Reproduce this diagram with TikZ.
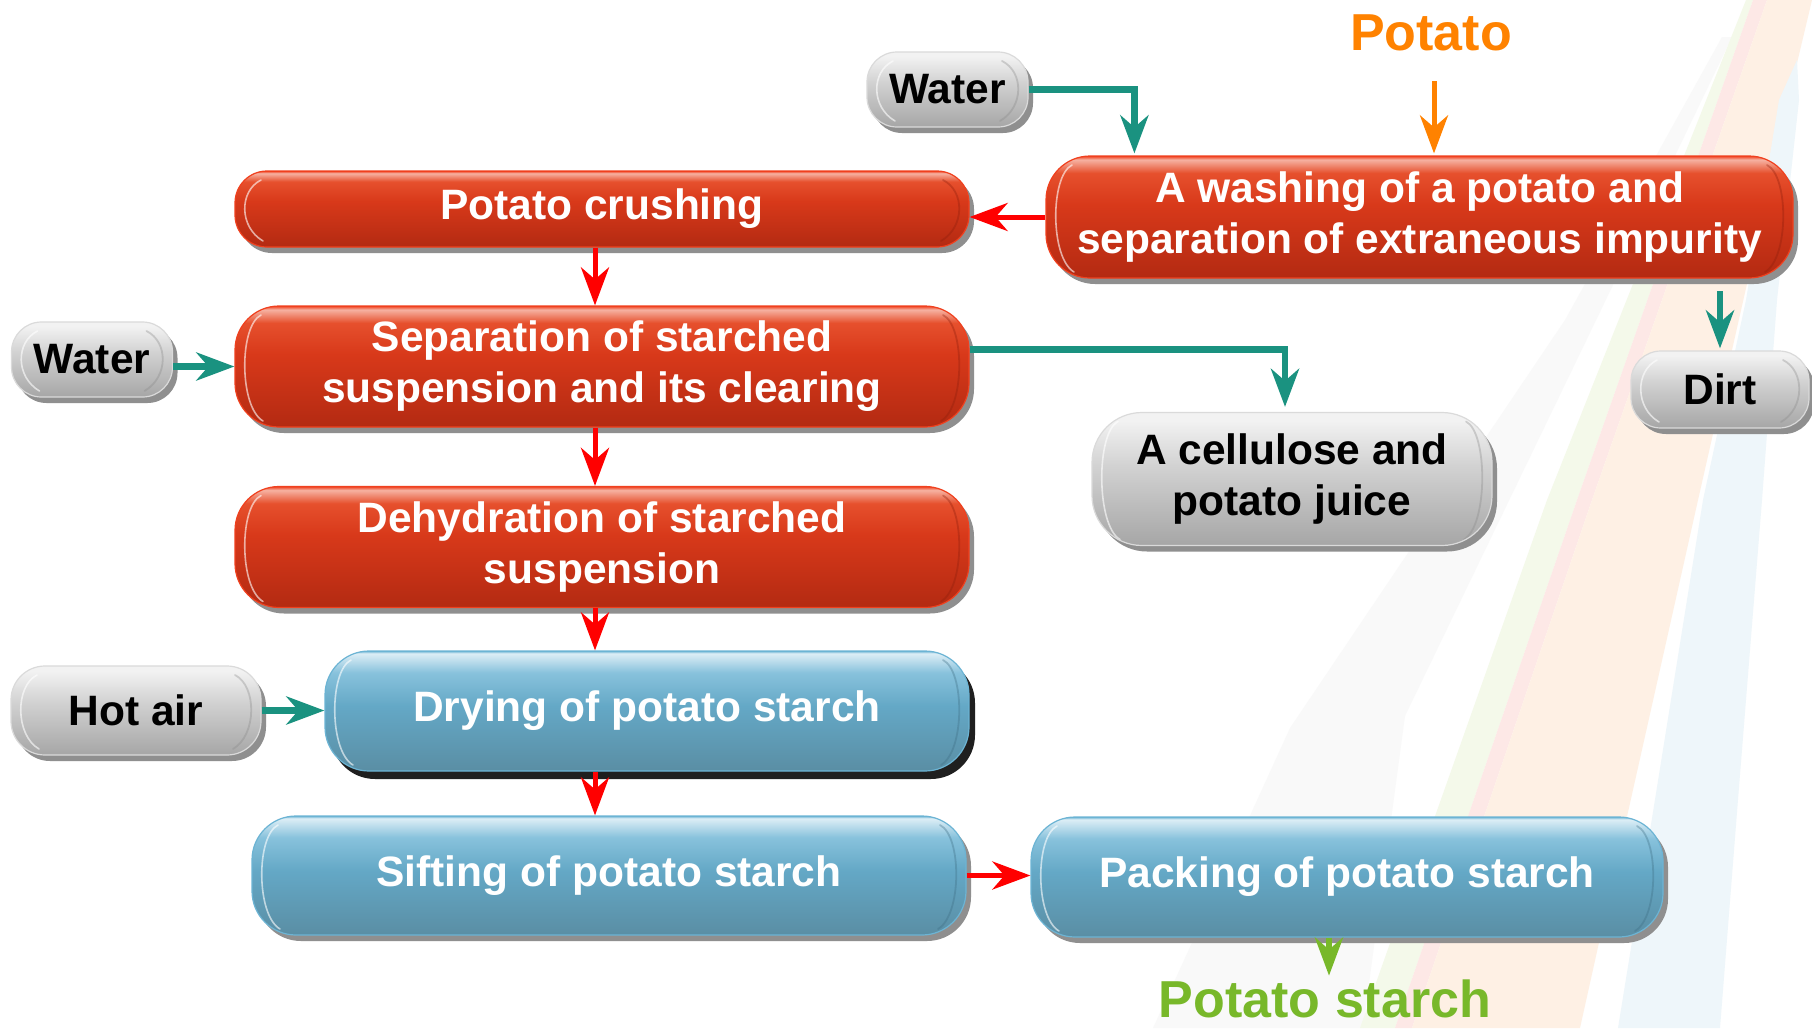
\documentclass[tikz,border=0pt]{standalone}
\usepackage{fontspec}
\setmainfont{Liberation Sans}
\usetikzlibrary{arrows.meta,shadows,calc}

\definecolor{tealc}{HTML}{1A9280}
\definecolor{orangec}{HTML}{FF8200}
\definecolor{greenc}{HTML}{78B82A}
\definecolor{redl}{HTML}{FF0000}
% red glass
\definecolor{redB}{HTML}{B32A12}
\definecolor{redM}{HTML}{D8391A}
\definecolor{redT}{HTML}{E6502D}
\definecolor{redH}{HTML}{F6B2A2}
\definecolor{redE}{HTML}{F0401E}
\definecolor{redDark}{HTML}{8E1E0C}
% blue glass
\definecolor{bluB}{HTML}{5A8EA4}
\definecolor{bluM}{HTML}{64A8C6}
\definecolor{bluT}{HTML}{88C2DC}
\definecolor{bluH}{HTML}{DDEEF6}
\definecolor{bluE}{HTML}{6CB4D4}
\definecolor{bluDark}{HTML}{3E6E84}
% gray glass
\definecolor{gryB}{HTML}{A6A6A6}
\definecolor{gryM}{HTML}{D2D2D2}
\definecolor{gryT}{HTML}{F2F2F2}
\definecolor{gryE}{HTML}{DADADA}
\definecolor{gryDark}{HTML}{8A8A8A}
% stripes
\definecolor{stGray}{HTML}{F9F9F9}
\definecolor{stGreen}{HTML}{F4F9EA}
\definecolor{stPink}{HTML}{FDE8E6}
\definecolor{stPeach}{HTML}{FEF0E4}
\definecolor{stBlue}{HTML}{EEF6FA}

\pgfdeclareverticalshading{redglass}{100bp}{color(0bp)=(redB); color(25bp)=(redB); color(55bp)=(redM); color(68bp)=(redT); color(73.5bp)=(redH); color(75bp)=(redE); color(100bp)=(redE)}
\pgfdeclareverticalshading{blueglass}{100bp}{color(0bp)=(bluB); color(25bp)=(bluB); color(52bp)=(bluM); color(66bp)=(bluT); color(74bp)=(bluH); color(75bp)=(bluE); color(100bp)=(bluE)}
\pgfdeclareverticalshading{grayglass}{100bp}{color(0bp)=(gryB); color(25bp)=(gryB); color(55bp)=(gryM); color(72bp)=(gryT); color(75bp)=(gryT); color(100bp)=(gryT)}

\tikzset{
  glassarcs/.style={path picture={
    \coordinate (ppnw) at (path picture bounding box.north west);
    \coordinate (ppsw) at (path picture bounding box.south west);
    \coordinate (ppne) at (path picture bounding box.north east);
    \coordinate (ppse) at (path picture bounding box.south east);
    \draw[line width=1.6pt, white, opacity=.6, line cap=round]
      ($(ppnw)+(26,9)$) .. controls ($(ppnw)+(4,20)$) and ($(ppsw)+(4,-20)$) .. ($(ppsw)+(28,-6)$);
    \draw[line width=1.8pt, #1, opacity=.35, line cap=round]
      ($(ppne)+(-26,9)$) .. controls ($(ppne)+(-4,20)$) and ($(ppse)+(-4,-20)$) .. ($(ppse)+(-28,-6)$);
  }},
  boxbase/.style={line width=1.2pt, inner sep=0pt, align=center,
    font=\bfseries\fontsize{42.5}{51}\selectfont},
  grayshadow/.style={drop shadow={shadow xshift=5pt, shadow yshift=-6pt, fill=black!44, opacity=1}},
  blackshadow/.style={drop shadow={shadow xshift=6pt, shadow yshift=-8pt, fill=black!88, opacity=1}},
  redbox/.style={boxbase, draw=redE, shade, shading=redglass, text=white, grayshadow, glassarcs=redDark},
  bluebox/.style={boxbase, draw=bluE, shade, shading=blueglass, text=white, glassarcs=bluDark},
  graybox/.style={boxbase, draw=gryE, shade, shading=grayglass, text=black, grayshadow, glassarcs=gryDark},
  tip/.style={-{Stealth[length=38pt, width=28pt, inset=12pt]}},
  redarrow/.style={tip, draw=redl, line width=5pt},
  tealarrow/.style={tip, draw=tealc, line width=6.5pt},
  orangearrow/.style={tip, draw=orangec, line width=5pt},
  greenarrow/.style={tip, draw=greenc, line width=6pt},
  bigtext/.style={font=\bfseries\fontsize{52}{60}\selectfont, inner sep=0pt, anchor=base}
}

\begin{document}
\begin{tikzpicture}[x=1pt, y=-1pt]
\useasboundingbox (0,0) rectangle (1812,1028);
\fill[white] (0,0) rectangle (1812,1028);

% background stripes
\fill[stGray] (1722,37) -- (1732,37) -- (1600,312) -- (1405,716) -- (1363,1028) -- (1153,1028) -- (1290,728) -- (1565,320) -- cycle;
\fill[stGreen] (1746,0) -- (1753,0) -- (1577,500) -- (1395,1028) -- (1360,1028) -- (1547,500) -- cycle;
\fill[stPink] (1753,0) -- (1767,0) -- (1592,500) -- (1412,1028) -- (1395,1028) -- (1577,500) -- cycle;
\fill[stPeach] (1767,0) -- (1812,0) -- (1797,63) -- (1698,500) -- (1628,812) -- (1580,1028) -- (1412,1028) -- (1592,500) -- cycle;
\fill[stBlue] (1797,60) -- (1799,100) -- (1777,300) -- (1762,500) -- (1737,812) -- (1720,1028) -- (1618,1028) -- (1653,812) -- (1703,500) -- (1746,300) -- (1779,100) -- cycle;

% texts
\node[bigtext, text=orangec] (potato) at (1431,50) {Potato};
\node[bigtext, text=greenc] (starch) at (1325,1017) {Potato starch};

% boxes
\node[graybox, minimum width=161pt, minimum height=75pt, rounded corners=30pt] (w1) at (947.5,89.5) {Water};
\node[redbox, minimum width=747pt, minimum height=122pt, rounded corners=44pt] (wash) at (1419.5,217) {A washing of a potato and\\separation of extraneous impurity};
\node[redbox, minimum width=734pt, minimum height=76pt, rounded corners=32pt] (crush) at (602,209) {Potato crushing};
\node[redbox, minimum width=734pt, minimum height=121pt, rounded corners=44pt] (sep) at (602,366.5) {Separation of starched\\suspension and its clearing};
\node[graybox, minimum width=161pt, minimum height=75pt, rounded corners=30pt] (w2) at (92,359.5) {Water};
\node[graybox, minimum width=400pt, minimum height=133pt, rounded corners=50pt] (cell) at (1292,479) {A cellulose and\\potato juice};
\node[graybox, minimum width=178pt, minimum height=77pt, rounded corners=30pt] (dirt) at (1720,389.5) {Dirt};
\node[redbox, minimum width=734pt, minimum height=121pt, rounded corners=44pt] (dehyd) at (602,547) {Dehydration of starched\\suspension};
\node[graybox, minimum width=250pt, minimum height=89pt, rounded corners=34pt] (hot) at (136,710.5) {Hot air};
\node[bluebox, blackshadow, minimum width=644pt, minimum height=120pt, rounded corners=44pt] (dry) at (647,711) {Drying of potato starch};
\node[bluebox, grayshadow, minimum width=714pt, minimum height=119pt, rounded corners=44pt] (sift) at (609,875.5) {Sifting of potato starch};
\node[bluebox, grayshadow, minimum width=632pt, minimum height=120pt, rounded corners=44pt] (pack) at (1347,877) {Packing of potato starch};

% helper coordinates
\coordinate (colx) at (595,0);
\coordinate (ptop) at (1434,81);
\coordinate (dirttop) at (1720,291);

% connectors
\draw[tealarrow] (w1.east) -| ($(wash.north west)+(89,-2)$);
\draw[orangearrow] (ptop) -- ($(ptop |- wash.north)+(0,-2)$);
\draw[redarrow] (wash.west) -- (wash.west -| crush.east);
\draw[redarrow] (crush.south -| colx) -- (sep.north -| colx);
\draw[tealarrow] (sep.west -| w2.east) -- (sep.west);
\draw[tealarrow] ($(sep.east)+(0,-17)$) -| ($(cell.north)+(-7,-5)$);
\draw[tealarrow] (dirttop) -- ($(dirt.north)+(0,-2)$);
\draw[redarrow] (sep.south -| colx) -- (dehyd.north -| colx);
\draw[redarrow] (dehyd.south -| colx) -- (dry.north -| colx);
\draw[tealarrow] (hot.east) -- (hot.east -| dry.west);
\draw[redarrow] (dry.south -| colx) -- (sift.north -| colx);
\draw[redarrow] (sift.east) -- (sift.east -| pack.west);
\draw[greenarrow] ($(pack.south)+(-18,0)$) -- ($(pack.south)+(-18,38)$);
\end{tikzpicture}
\end{document}
